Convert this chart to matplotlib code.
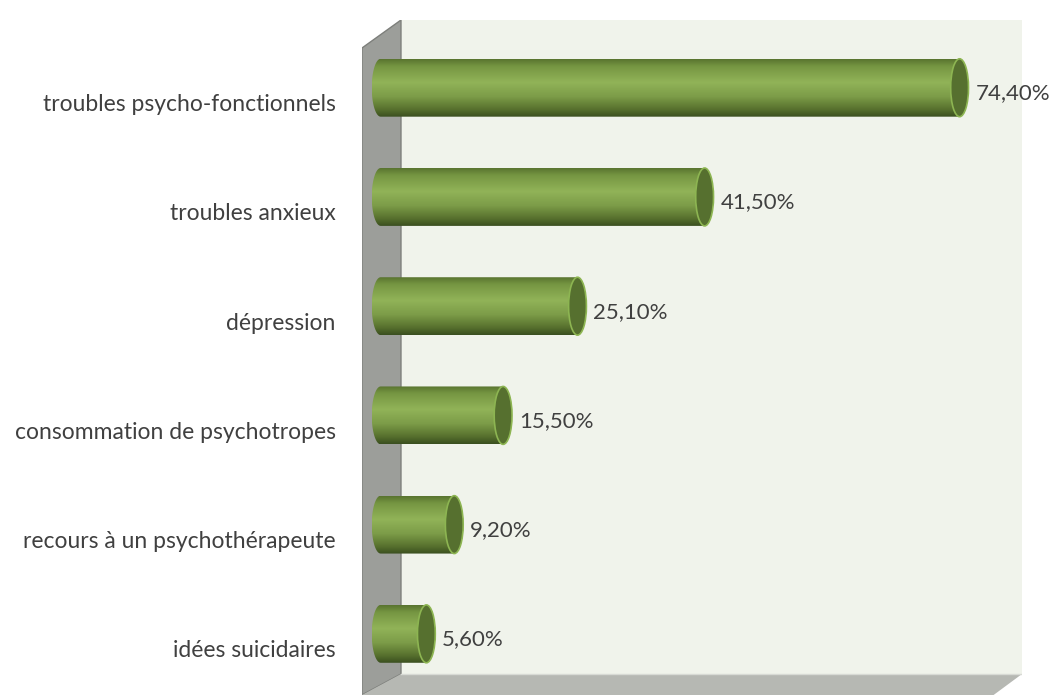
import numpy as np
import matplotlib
matplotlib.use('Agg')
import matplotlib.pyplot as plt
import matplotlib.patches as mpatches
import matplotlib.transforms as mtransforms
from matplotlib.colors import to_rgb

categories = ['idées suicidaires', 'recours à un psychothérapeute',
	'consommation de psychotropes', 'dépression', 'troubles anxieux',
	'troubles psycho-fonctionnels']
values = [5.6, 9.2, 15.5, 25.1, 41.5, 74.4]
value_labels = ['5,60%', '9,20%', '15,50%', '25,10%', '41,50%', '74,40%']

plt.rcParams['font.family'] = ['Lato', 'DejaVu Sans']

fig = plt.figure(figsize=(10.55, 6.95), dpi=100)
ax = fig.add_axes([0.3431, 0.0, 0.6256, 0.9712])
ax.set_xlim(-2.71, 82.45)
ax.set_ylim(-0.56, 5.62)

# walls (axes fraction coords)
tr = ax.transAxes
back = mpatches.Rectangle((0.0591, 0.0311), 1 - 0.0591, 1 - 0.0311, transform=tr,
	facecolor='#f0f3eb', edgecolor='none', zorder=0)
side = mpatches.Polygon([(0, 0.9585), (0.0591, 1.0), (0.0591, 0.0311), (0, 0)], closed=True,
	transform=tr, facecolor='#9c9e9a', edgecolor='#7d7f7b', lw=1, zorder=0)
floor = mpatches.Polygon([(0.0591, 0.0311), (1.0, 0.0311), (0.957, 0), (0, 0)], closed=True,
	transform=tr, facecolor='#b6b8b3', edgecolor='none', zorder=0)
for p in (back, side, floor):
	ax.add_patch(p)
ax.plot([0.0591, 1.0], [0.0311, 0.0311], transform=tr, color='#d8dad5', lw=1, zorder=0.5)

# bar gradient: top -> bottom
stops = [(0.0, '#5a7530'), (0.12, '#769642'), (0.4, '#91b358'), (0.65, '#7c9c48'),
	(0.88, '#566f2d'), (1.0, '#3b5020')]
n = 64
pos = np.linspace(0, 1, n)
grad = np.zeros((n, 1, 3))
for c in range(3):
	grad[:, 0, c] = np.interp(pos, [s[0] for s in stops], [to_rgb(s[1])[c] for s in stops])

bar_h = 0.53
cap_w = 2.3
for i, v in enumerate(values):
	yc = i
	b = bar_h / 2
	a = cap_w / 2
	th = np.linspace(np.pi / 2, 3 * np.pi / 2, 40)
	verts = [(a * np.cos(t) - 0.3, yc + b * np.sin(t)) for t in th]
	verts += [(v, yc - b), (v, yc + b)]
	clip = mpatches.Polygon(verts, closed=True, transform=ax.transData, facecolor='none',
		edgecolor='none')
	ax.add_patch(clip)
	im = ax.imshow(grad, extent=(-a - 0.3, v, yc - b, yc + b), aspect='auto', origin='upper',
		zorder=2, interpolation='bilinear')
	im.set_clip_path(clip)
	cap = mpatches.Ellipse((v, yc), cap_w, bar_h, facecolor='#56702f', edgecolor='#8db552',
		lw=1.2, zorder=3)
	ax.add_patch(cap)
	ax.annotate(value_labels[i], (v + a, yc), xytext=(5, -4), textcoords='offset points',
		va='center', ha='left', fontsize=16, color='#404040', zorder=4)

ax.set_xticks([])
ax.set_yticks(range(len(categories)))
ax.set_yticklabels(categories, fontsize=16.5, color='#404040')
ax.tick_params(axis='y', length=0, pad=19)
offset = mtransforms.ScaledTranslation(0, -15 / 100, fig.dpi_scale_trans)
for lab in ax.get_yticklabels():
	lab.set_transform(lab.get_transform() + offset)
for s in ax.spines.values():
	s.set_visible(False)
ax.patch.set_visible(False)

fig.savefig('out.png', dpi=100)
